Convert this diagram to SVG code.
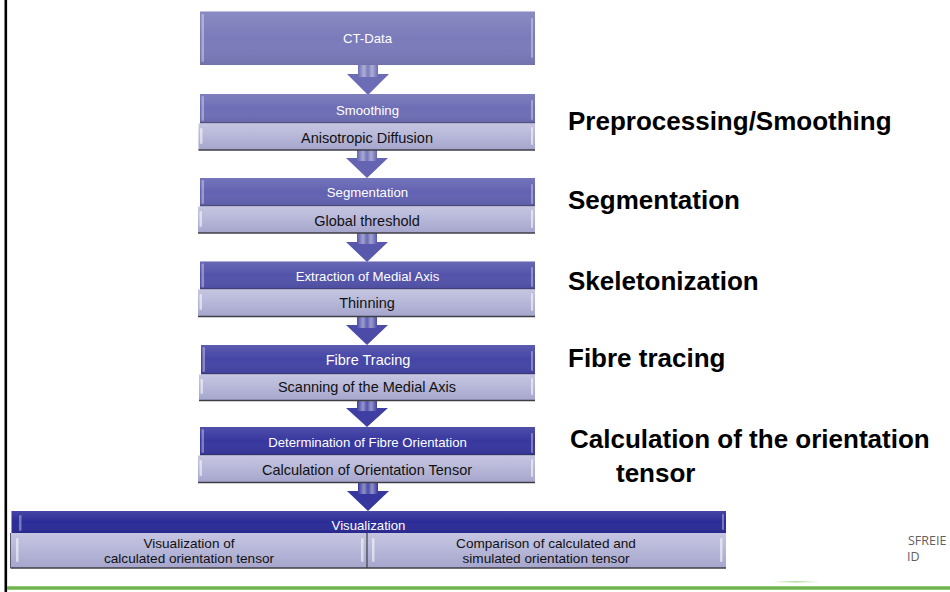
<svg xmlns="http://www.w3.org/2000/svg" width="950" height="592" viewBox="0 0 950 592">
  <style>
    .title { font-family: "Liberation Sans", Arial, sans-serif; font-size: 13.2px; fill: #ffffff; text-anchor: middle; }
    .sub { font-family: "Liberation Sans", Arial, sans-serif; font-size: 14.5px; fill: #111111; text-anchor: middle; }
    .sub2 { font-family: "Liberation Sans", Arial, sans-serif; font-size: 13.6px; fill: #111111; text-anchor: middle; }
    .label { font-family: "Liberation Sans", Arial, sans-serif; font-size: 26px; font-weight: bold; fill: #000000; }
    .logo { font-family: "Open Sans", "Liberation Sans", sans-serif; font-size: 12.5px; fill: #5f5f5f; }
    .subbar { fill: url(#subGrad); }
    .subline { stroke: #3e3e46; stroke-width: 1.6; }
    .edge { fill: #ffffff; opacity: 0.35; }
    .edgeSub { fill: #ffffff; opacity: 0.55; }
    .shaftGloss { fill: url(#shaftGrad); }
  </style>
  <defs>
    <linearGradient id="subGrad" x1="0" y1="0" x2="0" y2="1">
      <stop offset="0" stop-color="#c6c6e2"/>
      <stop offset="0.5" stop-color="#b6b6d8"/>
      <stop offset="1" stop-color="#a6a6cd"/>
    </linearGradient>
    <linearGradient id="topGloss" x1="0" y1="0" x2="0" y2="1">
      <stop offset="0" stop-color="#ffffff" stop-opacity="0.12"/>
      <stop offset="0.5" stop-color="#ffffff" stop-opacity="0"/>
      <stop offset="1" stop-color="#000000" stop-opacity="0.08"/>
    </linearGradient>
    <linearGradient id="shaftGrad" x1="0" y1="0" x2="1" y2="0">
      <stop offset="0" stop-color="#ffffff" stop-opacity="0"/>
      <stop offset="0.3" stop-color="#ffffff" stop-opacity="0.45"/>
      <stop offset="0.5" stop-color="#ffffff" stop-opacity="0.1"/>
      <stop offset="0.7" stop-color="#ffffff" stop-opacity="0.45"/>
      <stop offset="1" stop-color="#ffffff" stop-opacity="0"/>
    </linearGradient>
    <linearGradient id="greenLine" x1="0" y1="0" x2="0" y2="1">
      <stop offset="0" stop-color="#a6d58c"/>
      <stop offset="0.5" stop-color="#5aa83c"/>
      <stop offset="1" stop-color="#a6d58c"/>
    </linearGradient>
    <linearGradient id="glint" x1="0" y1="0" x2="1" y2="0">
      <stop offset="0" stop-color="#8fd06a" stop-opacity="0"/>
      <stop offset="0.5" stop-color="#8fd06a" stop-opacity="0.7"/>
      <stop offset="1" stop-color="#8fd06a" stop-opacity="0"/>
    </linearGradient>
  </defs>

  <rect x="0" y="0" width="950" height="592" fill="#ffffff"/>

  <!-- slide frame: left rule and green footer line -->
  <rect x="4.5" y="0" width="2.6" height="592" fill="#000000"/>
  <rect x="7" y="586" width="943" height="4" fill="url(#greenLine)"/>
  <rect x="772" y="581" width="48" height="1.5" fill="url(#glint)"/>

  <!-- connectors: down arrows between process steps -->
  <g id="connectors">
    <g>
      <path d="M358,65 H378 V74 H389 L368,95 L347,74 H358 Z" fill="#6c6cb6"/>
      <rect x="358" y="65" width="20" height="12" class="shaftGloss"/>
    </g>
    <g>
      <path d="M357,150 H377 V158 H388 L367,178 L346,158 H357 Z" fill="#6464b2"/>
      <rect x="357" y="150" width="20" height="11" class="shaftGloss"/>
    </g>
    <g>
      <path d="M357,233 H377 V242 H388 L367,262 L346,242 H357 Z" fill="#5858ac"/>
      <rect x="357" y="233" width="20" height="11" class="shaftGloss"/>
    </g>
    <g>
      <path d="M357,317 H377 V325 H388 L367,345 L346,325 H357 Z" fill="#4c4ca8"/>
      <rect x="357" y="317" width="20" height="11" class="shaftGloss"/>
    </g>
    <g>
      <path d="M357,401 H377 V408 H388 L367,427 L346,408 H357 Z" fill="#3f3fa3"/>
      <rect x="357" y="401" width="20" height="10" class="shaftGloss"/>
    </g>
    <g>
      <path d="M358,483 H378 V491 H389 L368,511 L347,491 H358 Z" fill="#36369e"/>
      <rect x="358" y="483" width="20" height="11" class="shaftGloss"/>
    </g>
  </g>

  <!-- CT-Data -->
  <g id="ct-data">
    <rect x="200" y="11.5" width="335" height="53.5" fill="#7b7bbb"/>
    <rect x="200" y="11.5" width="335" height="53.5" fill="url(#topGloss)"/>
    <rect x="201.5" y="14" width="2.5" height="48" rx="1.2" class="edge"/>
    <rect x="531" y="18" width="2" height="40" rx="1" class="edge"/>
    <text x="367.5" y="43" class="title">CT-Data</text>
  </g>

  <!-- Smoothing / Anisotropic Diffusion -->
  <g id="smoothing">
    <rect x="200" y="94" width="335" height="29" fill="#6e6eb6"/>
    <rect x="200" y="94" width="335" height="29" fill="url(#topGloss)"/>
    <rect x="201.5" y="96" width="2.5" height="25" rx="1.2" class="edge"/>
    <rect x="531" y="100" width="2" height="20" rx="1" class="edge"/>
    <line x1="200" y1="123" x2="535" y2="123" stroke="#3a3a60" stroke-width="1"/>
    <rect x="198.5" y="123.5" width="336.5" height="26.5" class="subbar"/>
    <rect x="200" y="128" width="2.5" height="16" rx="1.2" class="edgeSub"/>
    <rect x="531" y="127" width="2" height="18" rx="1" class="edgeSub"/>
    <line x1="198.5" y1="150" x2="535" y2="150" class="subline"/>
    <text x="367.5" y="115" class="title">Smoothing</text>
    <text x="367" y="143" class="sub">Anisotropic Diffusion</text>
  </g>

  <!-- Segmentation / Global threshold -->
  <g id="segmentation">
    <rect x="200" y="178" width="335" height="28" fill="#6262b2"/>
    <rect x="200" y="178" width="335" height="28" fill="url(#topGloss)"/>
    <rect x="201.5" y="180" width="2.5" height="24" rx="1.2" class="edge"/>
    <rect x="531" y="184" width="2" height="20" rx="1" class="edge"/>
    <line x1="200" y1="206" x2="535" y2="206" stroke="#3a3a60" stroke-width="1"/>
    <rect x="198" y="206.5" width="337" height="26.5" class="subbar"/>
    <rect x="199.5" y="211" width="2.5" height="16" rx="1.2" class="edgeSub"/>
    <rect x="531" y="210" width="2" height="18" rx="1" class="edgeSub"/>
    <line x1="198" y1="233" x2="535" y2="233" class="subline"/>
    <text x="367.5" y="197" class="title">Segmentation</text>
    <text x="367" y="226" class="sub">Global threshold</text>
  </g>

  <!-- Extraction of Medial Axis / Thinning -->
  <g id="medial-axis">
    <rect x="200" y="261.5" width="335" height="27.5" fill="#5353ab"/>
    <rect x="200" y="261.5" width="335" height="27.5" fill="url(#topGloss)"/>
    <rect x="201.5" y="263.5" width="2.5" height="24" rx="1.2" class="edge"/>
    <rect x="531" y="267" width="2" height="20" rx="1" class="edge"/>
    <line x1="200" y1="289" x2="535" y2="289" stroke="#33335a" stroke-width="1"/>
    <rect x="198" y="289.5" width="337" height="27" class="subbar"/>
    <rect x="199.5" y="294" width="2.5" height="16" rx="1.2" class="edgeSub"/>
    <rect x="531" y="293" width="2" height="18" rx="1" class="edgeSub"/>
    <line x1="198" y1="316.5" x2="535" y2="316.5" class="subline"/>
    <text x="367.5" y="280.5" class="title">Extraction of Medial Axis</text>
    <text x="367" y="308" class="sub">Thinning</text>
  </g>

  <!-- Fibre Tracing / Scanning of the Medial Axis -->
  <g id="fibre-tracing">
    <rect x="201" y="345" width="334" height="29" fill="#4545a6"/>
    <rect x="201" y="345" width="334" height="29" fill="url(#topGloss)"/>
    <rect x="202.5" y="347" width="2.5" height="25" rx="1.2" class="edge"/>
    <rect x="531" y="351" width="2" height="20" rx="1" class="edge"/>
    <line x1="201" y1="374" x2="535" y2="374" stroke="#2e2e58" stroke-width="1"/>
    <rect x="199" y="374.5" width="336" height="26" class="subbar"/>
    <rect x="200.5" y="379" width="2.5" height="15" rx="1.2" class="edgeSub"/>
    <rect x="531" y="378" width="2" height="17" rx="1" class="edgeSub"/>
    <line x1="199" y1="400.5" x2="535" y2="400.5" class="subline"/>
    <text x="368" y="365" class="title" style="font-size:14.5px">Fibre Tracing</text>
    <text x="367" y="392" class="sub">Scanning of the Medial Axis</text>
  </g>

  <!-- Determination of Fibre Orientation / Calculation of Orientation Tensor -->
  <g id="orientation">
    <rect x="200" y="427" width="335" height="28" fill="#37379f"/>
    <rect x="200" y="427" width="335" height="28" fill="url(#topGloss)"/>
    <rect x="201.5" y="429" width="2.5" height="24" rx="1.2" class="edge"/>
    <rect x="531" y="433" width="2" height="20" rx="1" class="edge"/>
    <line x1="200" y1="455" x2="535" y2="455" stroke="#2a2a55" stroke-width="1"/>
    <rect x="198" y="455.5" width="337" height="27" class="subbar"/>
    <rect x="199.5" y="460" width="2.5" height="16" rx="1.2" class="edgeSub"/>
    <rect x="531" y="459" width="2" height="18" rx="1" class="edgeSub"/>
    <line x1="198" y1="482.5" x2="535" y2="482.5" class="subline"/>
    <text x="367.5" y="447" class="title">Determination of Fibre Orientation</text>
    <text x="367" y="474.5" class="sub">Calculation of Orientation Tensor</text>
  </g>

  <!-- Visualization with two result panels -->
  <g id="visualization">
    <rect x="11.5" y="511" width="714.5" height="22" fill="#2c2c98"/>
    <rect x="11.5" y="511" width="714.5" height="22" fill="url(#topGloss)"/>
    <rect x="19" y="515" width="2.5" height="16" rx="1.2" class="edge"/>
    <rect x="722" y="514" width="2" height="16" rx="1" class="edge"/>
    <text x="368.5" y="530" class="title">Visualization</text>
  </g>
  <g id="visualization-calculated">
    <rect x="10.5" y="533" width="356.5" height="35" class="subbar"/>
    <rect x="16" y="538" width="2.5" height="24" rx="1.2" class="edgeSub"/>
    <rect x="361" y="538" width="2.5" height="24" rx="1.2" class="edgeSub"/>
    <line x1="10.5" y1="568" x2="367" y2="568" class="subline"/>
    <line x1="10.5" y1="533" x2="10.5" y2="568" stroke="#5a5a70" stroke-width="1"/>
    <text x="189" y="548" class="sub2">Visualization of</text>
    <text x="189" y="563" class="sub2">calculated orientation tensor</text>
  </g>
  <g id="visualization-comparison">
    <rect x="367" y="533" width="359" height="35" class="subbar"/>
    <line x1="367" y1="533" x2="367" y2="568" stroke="#3e3e46" stroke-width="1.2"/>
    <rect x="372" y="538" width="2.5" height="24" rx="1.2" class="edgeSub"/>
    <rect x="720" y="538" width="2.5" height="24" rx="1.2" class="edgeSub"/>
    <line x1="367" y1="568" x2="726" y2="568" class="subline"/>
    <text x="546" y="548" class="sub2">Comparison of calculated and</text>
    <text x="546" y="563" class="sub2">simulated orientation tensor</text>
  </g>

  <!-- stage labels -->
  <g id="stage-labels">
    <text x="568" y="130" class="label">Preprocessing/Smoothing</text>
    <text x="568" y="209" class="label">Segmentation</text>
    <text x="568" y="290" class="label">Skeletonization</text>
    <text x="568" y="367" class="label">Fibre tracing</text>
    <text x="570" y="448" class="label">Calculation of the orientation</text>
    <text x="616" y="482" class="label">tensor</text>
  </g>

  <!-- footer logo text at the slide edge -->
  <g id="footer-logo">
    <text x="908" y="545" class="logo">SFREIE</text>
    <text x="907" y="561" class="logo">ID</text>
  </g>
</svg>
